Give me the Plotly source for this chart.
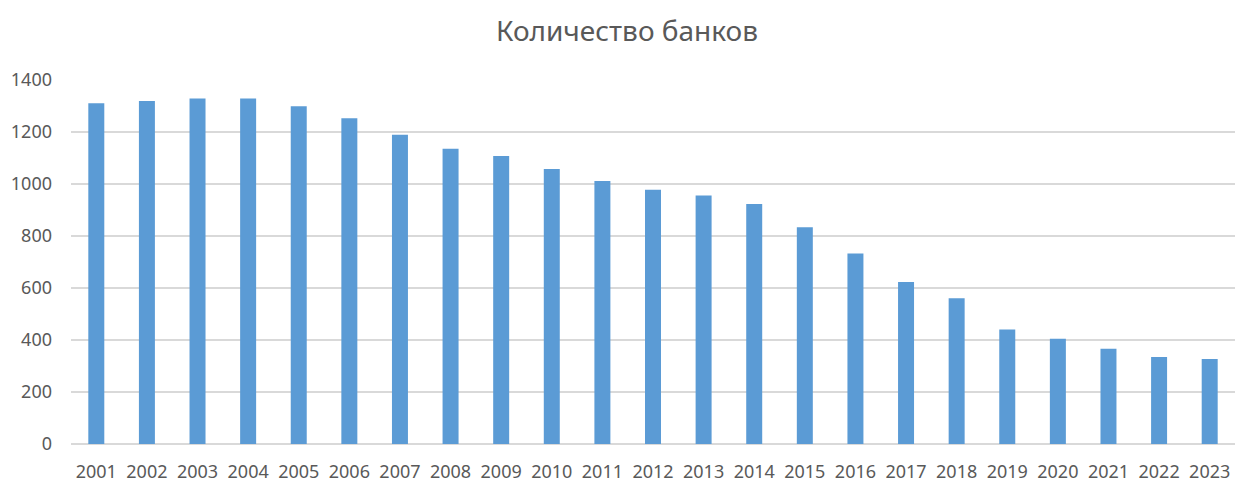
import plotly.graph_objects as go

years = [str(y) for y in range(2001, 2024)]
banks = [1311, 1319, 1329, 1329, 1299, 1253, 1189, 1136, 1108, 1058, 1012, 978,
         956, 923, 834, 733, 623, 561, 440, 405, 366, 335, 327]
title_text = "Количество банков"
y_ticks = [0, 200, 400, 600, 800, 1000, 1200, 1400]

text_color = "#595959"
bar_color = "#5B9BD5"
grid_color = "#D9D9D9"
font_family = "Noto Sans, Open Sans, sans-serif"

W, H = 1251, 483  # page body has an 8px default margin

fig = go.Figure(go.Bar(x=years, y=banks, marker_color=bar_color, marker_line_width=0))

fig.update_layout(
    width=W, height=H,
    margin=dict(l=63, r=24, t=72, b=47),
    paper_bgcolor="white", plot_bgcolor="white",
    bargap=0.684,
    showlegend=False,
    title=dict(text=title_text, x=(627 - 8) / W, xanchor="center", y=1 - 23 / H, yanchor="middle",
               font=dict(family=font_family, size=28, color=text_color)),
    font=dict(family=font_family, size=18, color=text_color),
)
fig.update_xaxes(type="category", showgrid=False, showline=False, zeroline=False, automargin=False,
                 ticks="", tickfont=dict(size=18, color=text_color), ticklabelstandoff=15)
fig.update_yaxes(range=[0, 1400], tickvals=y_ticks, showgrid=True, gridcolor=grid_color,
                 gridwidth=1.5, zeroline=True, zerolinecolor=grid_color, zerolinewidth=1.5,
                 showline=False, ticks="", automargin=False,
                 tickfont=dict(size=18, color=text_color), ticklabelstandoff=18)

fig.write_html("out.html")
